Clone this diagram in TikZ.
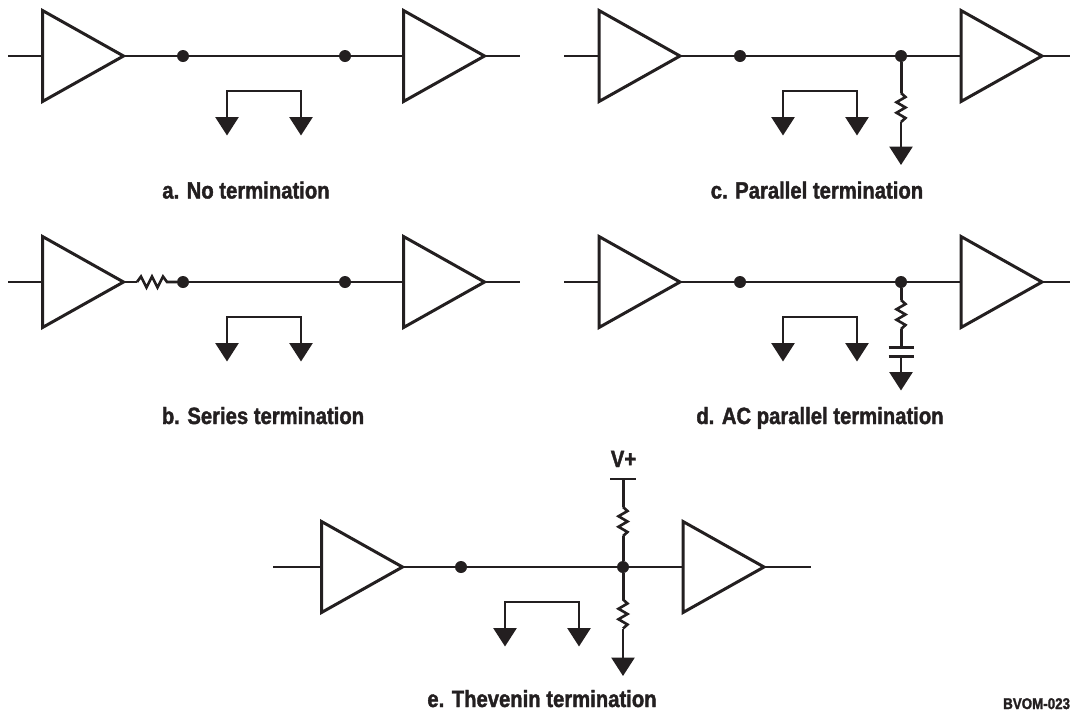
\documentclass[tikz,border=0pt]{standalone}
\usepackage{fontspec}
\setmainfont[FakeStretch=0.862,BoldFeatures={FakeStretch=0.862,FakeBold=1.6}]{Liberation Sans}
\usetikzlibrary{arrows.meta}
\definecolor{ink}{HTML}{231F20}
\tikzset{
  x=1pt,y=-1pt,
  wire/.style={draw=ink,line width=2.1pt},
  stem/.style={draw=ink,line width=3pt},
  ampbox/.style={draw=ink,line width=3pt,miter limit=10,line join=miter},
  res/.style={draw=ink,line width=2.6pt,line join=miter},
  dotnode/.style={circle,fill=ink,inner sep=0pt,minimum size=12pt},
  gnd/.style={draw=ink,line width=2.8pt,-{Triangle[length=18.5pt,width=23pt,fill=ink,sep=0pt]}},
  gndtwo/.style={draw=ink,line width=2.8pt,{Triangle[length=18.5pt,width=23pt,fill=ink,sep=0pt]}-{Triangle[length=18.5pt,width=23pt,fill=ink,sep=0pt]}},
  bar/.style={draw=ink,line width=2.4pt},
  caption/.style={font=\bfseries\fontsize{23.5}{27}\selectfont,text=ink,inner sep=0pt,anchor=base},
  tag/.style={font=\bfseries\fontsize{15.5}{18}\selectfont,text=ink,inner sep=0pt,anchor=base west},
}
% amplifier: name, left x, mid y
\newcommand{\amplifier}[3]{%
  \draw[ampbox] (#2,#3-45.5) -- (#2+81,#3) -- (#2,#3+45.5) -- cycle;
  \coordinate (#1i) at (#2,#3);
  \coordinate (#1o) at (#2+81,#3);
}
% bracket with two grounds: name, left x, top y
\newcommand{\gndbracket}[3]{%
  \coordinate (#1a) at (#2,#3+44.5);
  \coordinate (#1b) at (#2+74,#3+44.5);
  \draw[gndtwo] (#1a) |- (#2+37,#3) -| (#1b);
}
\newcommand{\zigv}{-- ++(4.5,4) -- ++(-9,5.25) -- ++(9,5.25) -- ++(-9,5.25) -- ++(9,5.25) -- ++(-4.5,4)}
\newcommand{\zigh}{-- ++(4,-5.5) -- ++(5.5,11) -- ++(5.5,-11) -- ++(5.5,11) -- ++(5.5,-11) -- ++(4,5.5)}
\begin{document}
\begin{tikzpicture}
\useasboundingbox (0,0) rectangle (1070,713);

% ---------- a
\amplifier{aL}{42.5}{56}\amplifier{aR}{403.5}{56}
\coordinate (aIn) at (8,56);\coordinate (aOut) at (520,56);
\node[dotnode] (aD1) at (183,56) {};\node[dotnode] (aD2) at (345,56) {};
\draw[wire] (aIn) -- (aLi);\draw[wire] (aLo) -- (aD1) -- (aD2) -- (aRi);\draw[wire] (aRo) -- (aOut);
\gndbracket{aB}{227}{91}
\node[caption] (aT) at (246,198.5) {a. No termination};

% ---------- b
\amplifier{bL}{42.5}{282}\amplifier{bR}{403.5}{282}
\coordinate (bIn) at (8,282);\coordinate (bOut) at (520,282);
\node[dotnode] (bD1) at (183,282) {};\node[dotnode] (bD2) at (345,282) {};
\coordinate (bRs) at (137,282);
\draw[wire] (bIn) -- (bLi);\draw[wire] (bLo) -- (bRs);
\draw[res] (bRs) \zigh -- (bD1);
\draw[wire] (bD1) -- (bD2) -- (bRi);\draw[wire] (bRo) -- (bOut);
\gndbracket{bB}{227}{317}
\node[caption] (bT) at (263,424) {b. Series termination};

% ---------- c
\amplifier{cL}{599}{56}\amplifier{cR}{961}{56}
\coordinate (cIn) at (564,56);\coordinate (cOut) at (1070,56);
\node[dotnode] (cD1) at (740,56) {};\node[dotnode] (cD2) at (901,56) {};
\draw[wire] (cIn) -- (cLi);\draw[wire] (cLo) -- (cD1) -- (cD2) -- (cRi);\draw[wire] (cRo) -- (cOut);
\gndbracket{cB}{783}{91}
\coordinate (cR1) at (901,93);\coordinate (cG) at (901,165);
\draw[stem] (cD2) -- (cR1);
\draw[res] (cR1) \zigv coordinate (cR2);
\draw[gnd] (cR2) -- (cG);
\node[caption] (cT) at (817,198.5) {c. Parallel termination};

% ---------- d
\amplifier{dL}{599}{282}\amplifier{dR}{961}{282}
\coordinate (dIn) at (564,282);\coordinate (dOut) at (1070,282);
\node[dotnode] (dD1) at (740,282) {};\node[dotnode] (dD2) at (901,282) {};
\draw[wire] (dIn) -- (dLi);\draw[wire] (dLo) -- (dD1) -- (dD2) -- (dRi);\draw[wire] (dRo) -- (dOut);
\gndbracket{dB}{783}{317}
\coordinate (dR1) at (901,300);\coordinate (dC1) at (901,347.5);\coordinate (dC2) at (901,356.5);\coordinate (dG) at (901,390.5);
\draw[stem] (dD2) -- (dR1);
\draw[res] (dR1) \zigv coordinate (dR2);
\draw[stem] (dR2) -- (dC1);
\draw[bar] (888.5,347.5) -- (913.5,347.5);
\draw[bar] (888.5,356.5) -- (913.5,356.5);
\draw[gnd] (dC2) -- (dG);
\node[caption] (dT) at (820,424) {d. AC parallel termination};

% ---------- e
\amplifier{eL}{321.5}{567}\amplifier{eR}{683}{567}
\coordinate (eIn) at (273,567);\coordinate (eOut) at (811,567);
\node[dotnode] (eD1) at (461,567) {};\node[dotnode] (eD2) at (623,567) {};
\draw[wire] (eIn) -- (eLi);\draw[wire] (eLo) -- (eD1) -- (eD2) -- (eRi);\draw[wire] (eRo) -- (eOut);
\gndbracket{eB}{505}{602}
\coordinate (eV) at (623,480);\coordinate (eU1) at (623,507);
\coordinate (eL1) at (623,599.5);\coordinate (eG) at (623,676);
\draw[bar] (610,479) -- (636,479);
\draw[stem] (eV) -- (eU1);
\draw[res] (eU1) \zigv coordinate (eU2);
\draw[stem] (eU2) -- (eD2);
\draw[stem] (eD2) -- (eL1);
\draw[res] (eL1) \zigv coordinate (eL2);
\draw[gnd] (eL2) -- (eG);
\node[caption] (eVp) at (623.5,467) {V+};
\node[caption] (eT) at (542,707) {e. Thevenin termination};

\node[tag] (code) at (1003,709) {BVOM-023};
\end{tikzpicture}
\end{document}
